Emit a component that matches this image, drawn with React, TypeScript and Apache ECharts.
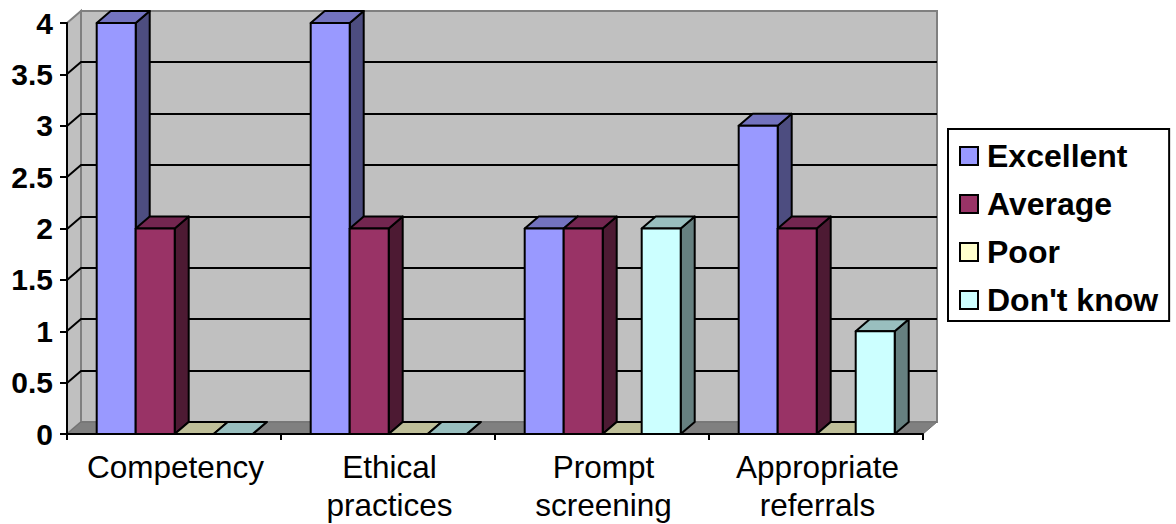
import React, { useEffect, useRef } from "react";
import * as echarts from "echarts";

const categories = ["Competency", "Ethical\npractices", "Prompt\nscreening", "Appropriate\nreferrals"];
const excellent = [4, 4, 2, 3];
const average = [2, 2, 2, 2];
const poor = [0, 0, 0, 0];
const dontKnow = [0, 0, 2, 1];
const yTicks = [0.5, 1, 1.5, 2, 2.5, 3, 3.5, 4];

const FONT = "'Liberation Sans', Arial, sans-serif";
// Oblique offset of the back of the 3D box, in pixels.
const DX = 14;
const DY = 12;
const STROKE = "#000";

type Palette = { front: string; top: string; side: string };
const palettes: Record<string, Palette> = {
  Excellent: { front: "#9999FF", top: "#7373BF", side: "#4D4D80" },
  Average: { front: "#993366", top: "#732650", side: "#4D1A33" },
  Poor: { front: "#FFFFCC", top: "#BFBF99", side: "#808066" },
  "Don't know": { front: "#CCFFFF", top: "#99BFBF", side: "#668080" },
};

const seriesData: [string, number[]][] = [
  ["Excellent", excellent],
  ["Average", average],
  ["Poor", poor],
  ["Don't know", dontKnow],
];

const BAR_SHARE = 39 / 214;

function barSeries(name: string, values: number[], index: number) {
  const colors = palettes[name];
  return {
    type: "custom",
    name,
    z: 5,
    silent: true,
    itemStyle: { color: colors.front },
    data: values.map((v, i) => [i, v]),
    encode: { x: 0, y: 1 },
    renderItem: (_: unknown, api: any) => {
      const [cx, yTop] = api.coord([api.value(0), api.value(1)]);
      const [, yBase] = api.coord([api.value(0), 0]);
      const band = api.size([1, 0])[0];
      const w = band * BAR_SHARE;
      const x0 = cx + 0.7 - 2 * w + index * w;
      const x1 = x0 + w;
      const line = { stroke: STROKE, lineWidth: 2, lineJoin: "round" };
      return {
        type: "group",
        children: [
          {
            type: "polygon",
            shape: { points: [[x1, yBase], [x1 + DX, yBase - DY], [x1 + DX, yTop - DY], [x1, yTop]] },
            style: { fill: colors.side, ...line },
          },
          {
            type: "polygon",
            shape: { points: [[x0, yTop], [x1, yTop], [x1 + DX, yTop - DY], [x0 + DX, yTop - DY]] },
            style: { fill: colors.top, ...line },
          },
          {
            type: "rect",
            shape: { x: x0, y: yTop, width: x1 - x0, height: yBase - yTop },
            style: { fill: colors.front, ...line },
          },
        ],
      };
    },
  };
}

export default function App() {
  const ref = useRef<HTMLDivElement>(null);

  useEffect(() => {
    if (!ref.current) return;
    const chart = echarts.init(ref.current, undefined, { renderer: "svg" });
    chart.setOption({
      animation: false,
      backgroundColor: "#fff",
      textStyle: { fontFamily: FONT },
      grid: { left: 67, right: 253, top: 23, bottom: 89, containLabel: false },
      legend: {
        orient: "vertical",
        left: 948,
        top: 129,
        padding: [10, 11, 4, 11],
        borderColor: "#000",
        borderWidth: 2,
        backgroundColor: "#fff",
        itemWidth: 18,
        itemHeight: 18,
        itemGap: 14,
        icon: "rect",
        selectedMode: false,
        data: seriesData.map(([name]) => name),
        itemStyle: { borderColor: "#000", borderWidth: 2 },
        textStyle: { fontFamily: FONT, fontSize: 32, fontWeight: "bold", color: "#000", padding: [0, 0, 0, 4], lineHeight: 34 },
      },
      xAxis: {
        type: "category",
        data: categories,
        z: 8,
        axisLine: { lineStyle: { color: "#000", width: 2 } },
        axisTick: { show: true, length: 6, alignWithLabel: false, lineStyle: { color: "#000", width: 2 } },
        axisLabel: { fontFamily: FONT, fontSize: 31.5, color: "#000", margin: 14, lineHeight: 38, interval: 0, padding: [0, 0, 0, 3] },
        splitLine: { show: false },
      },
      yAxis: {
        type: "value",
        min: 0,
        max: 4,
        interval: 0.5,
        z: 8,
        axisLine: { show: true, lineStyle: { color: "#000", width: 2 } },
        axisTick: { show: true, length: 7, lineStyle: { color: "#000", width: 2 } },
        axisLabel: { fontFamily: FONT, fontSize: 30, fontWeight: "bold", color: "#000", margin: 14 },
        splitLine: { show: false },
      },
      series: [
        {
          // Side wall, back wall and floor of the box.
          type: "custom",
          silent: true,
          z: 1,
          data: [[0, 0]],
          encode: { x: 0, y: 1 },
          renderItem: (params: any) => {
            const { x, y, width, height } = params.coordSys;
            const b = y + height;
            const r = x + width;
            const edge = { stroke: "#808080", lineWidth: 2 };
            return {
              type: "group",
              children: [
                {
                  type: "polygon",
                  shape: { points: [[x, y], [x + DX, y - DY], [x + DX, b - DY], [x, b]] },
                  style: { fill: "#C0C0C0", ...edge },
                },
                {
                  type: "rect",
                  shape: { x: x + DX, y: y - DY, width, height },
                  style: { fill: "#C0C0C0", ...edge },
                },
                {
                  type: "polygon",
                  shape: { points: [[x, b], [r, b], [r + DX, b - DY], [x + DX, b - DY]] },
                  style: { fill: "#808080", stroke: "#707070", lineWidth: 1 },
                },
              ],
            };
          },
        },
        {
          // Gridlines folding from the side wall onto the back wall.
          type: "custom",
          silent: true,
          z: 2,
          data: yTicks.slice(0, -1).map((v) => [0, v]),
          encode: { x: 0, y: 1 },
          renderItem: (params: any, api: any) => {
            const py = Math.round(api.coord([0, api.value(1)])[1]);
            const { x, width } = params.coordSys;
            return {
              type: "polyline",
              shape: { points: [[x, py], [x + DX, py - DY], [x + DX + width, py - DY]] },
              style: { fill: "none", stroke: "#000", lineWidth: 2 },
            };
          },
        },
        ...seriesData.map(([name, values], i) => barSeries(name, values, i)),
      ],
    });
    return () => chart.dispose();
  }, []);

  return <div ref={ref} style={{ position: "fixed", left: 0, top: 0, width: 1176, height: 524 }} />;
}
